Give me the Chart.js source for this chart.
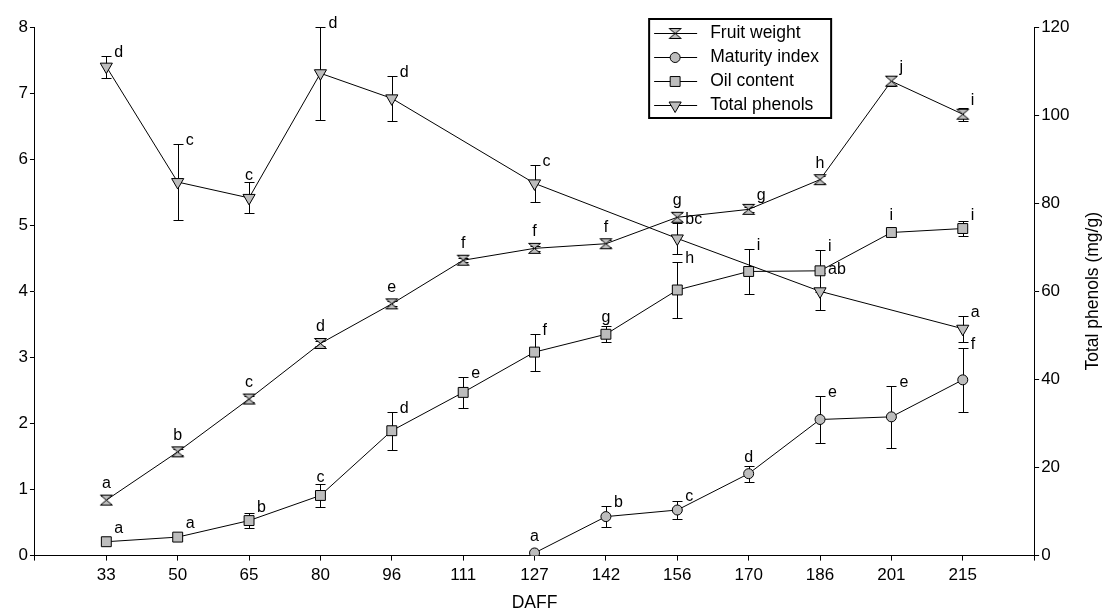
<!DOCTYPE html>
<html>
<head>
<meta charset="utf-8">
<script src="https://cdn.jsdelivr.net/npm/chart.js@4/dist/chart.umd.min.js"></script>
<style>
  html, body { margin: 0; padding: 0; background: #fff; }
  canvas { display: block; }
</style>
</head>
<body>
<canvas id="grafico" width="1105" height="614"></canvas>
<script>
// ===== Datos =====
const days = [33, 50, 65, 80, 96, 111, 127, 142, 156, 170, 186, 201, 215];
const leftTicks = [0, 1, 2, 3, 4, 5, 6, 7, 8];
const rightTicks = [0, 20, 40, 60, 80, 100, 120];

const fruitWeight = [0.84, 1.57, 2.37, 3.21, 3.81, 4.47, 4.65, 4.72, 5.12, 5.24, 5.69, 7.18, 6.68];
const fruitErr = [0.06, 0.05, 0.05, 0.04, 0.04, 0.03, 0.04, 0.05, 0.06, 0.04, 0.05, 0.08, 0.1];
const fruitLetters = ["a", "b", "c", "d", "e", "f", "f", "f", "g", "g", "h", "j", "i"];

const maturity = [null, null, null, null, null, null, 0.04, 0.59, 0.69, 1.24, 2.06, 2.10, 2.66];
const maturityErr = [null, null, null, null, null, null, 0, 0.16, 0.14, 0.12, 0.35, 0.47, 0.48];
const maturityLetters = [null, null, null, null, null, null, "a", "b", "c", "d", "e", "e", "f"];

const oil = [0.21, 0.28, 0.53, 0.91, 1.89, 2.47, 3.08, 3.35, 4.02, 4.30, 4.31, 4.89, 4.95];
const oilErr = [0, 0, 0.11, 0.17, 0.29, 0.23, 0.28, 0.12, 0.43, 0.34, 0.32, 0.03, 0.11];
const oilLetters = ["a", "a", "b", "c", "d", "e", "f", "g", "h", "i", "i", "i", "i"];

const phenols = [111.0, 84.8, 81.2, 109.5, 103.8, null, 84.5, null, 72.0, null, 60.0, null, 51.5];
const phenolsErr = [2.5, 8.6, 3.5, 10.5, 5.1, null, 4.2, null, 3.5, null, 4.2, null, 2.9];
const phenolsLetters = ["d", "c", "c", "d", "d", null, "c", null, "bc", null, "ab", null, "a"];

// donde va cada letra: a = encima, r = a la derecha
const fruitSide = "aaaaaaaaararr";
const maturitySide = "------arrarrr";
const oilSide = "rrrarrrarrrar";
const phenolsSide = "rrarr-r-r-r-r";

const FONT = 'Arial, "Liberation Sans", sans-serif';
const GRIS = "#bdbdbd";

// marcador tipo reloj de arena
function hourglass() {
  const c = document.createElement("canvas");
  c.width = 15;
  c.height = 13;
  const g = c.getContext("2d");
  g.fillStyle = GRIS;
  g.strokeStyle = "#000";
  g.lineWidth = 1;
  g.beginPath();
  g.moveTo(1.5, 1.5); g.lineTo(13.5, 1.5); g.lineTo(7.5, 6.5); g.closePath();
  g.moveTo(1.5, 11.5); g.lineTo(13.5, 11.5); g.lineTo(7.5, 6.5); g.closePath();
  g.fill();
  g.stroke();
  return c;
}

function puntos(values) {
  return values.map((v, i) => ({ x: i + 1, y: v }));
}

function serie(label, values, errs, letters, side, style, axis) {
  return Object.assign({
    label: label,
    data: puntos(values),
    errors: errs,
    letters: letters,
    side: side,
    yAxisID: axis,
    borderColor: "#000",
    borderWidth: 1,
    backgroundColor: GRIS,
    pointBackgroundColor: GRIS,
    pointBorderColor: "#000",
    pointBorderWidth: 1,
    spanGaps: true,
    tension: 0,
    fill: false
  }, style);
}

// ===== Plugins =====
const errorBars = {
  id: "errorBars",
  beforeDatasetsDraw(chart) {
    const ctx = chart.ctx;
    ctx.save();
    ctx.strokeStyle = "#000";
    ctx.lineWidth = 1;
    chart.data.datasets.forEach((ds, di) => {
      const meta = chart.getDatasetMeta(di);
      const yScale = chart.scales[ds.yAxisID];
      ds.errors.forEach((e, i) => {
        const v = ds.data[i].y;
        if (v == null || !e) return;
        const x = Math.round(meta.data[i].x) + 0.5;
        const y1 = Math.round(yScale.getPixelForValue(v + e)) + 0.5;
        const y2 = Math.round(yScale.getPixelForValue(v - e)) + 0.5;
        ctx.beginPath();
        ctx.moveTo(x, y1); ctx.lineTo(x, y2);
        ctx.moveTo(x - 5, y1); ctx.lineTo(x + 5, y1);
        ctx.moveTo(x - 5, y2); ctx.lineTo(x + 5, y2);
        ctx.stroke();
      });
    });
    ctx.restore();
  },
  afterDatasetsDraw(chart) {
    const ctx = chart.ctx;
    ctx.save();
    ctx.fillStyle = "#000";
    ctx.font = "16px " + FONT;
    ctx.textBaseline = "alphabetic";
    chart.data.datasets.forEach((ds, di) => {
      const meta = chart.getDatasetMeta(di);
      const yScale = chart.scales[ds.yAxisID];
      ds.letters.forEach((txt, i) => {
        if (!txt) return;
        const pt = meta.data[i];
        const v = ds.data[i].y;
        const e = ds.errors[i] || 0;
        const top = Math.min(yScale.getPixelForValue(v + e), pt.y - 10);
        if (ds.side[i] === "a") {
          ctx.textAlign = "center";
          ctx.fillText(txt, pt.x, top - 2);
        } else {
          ctx.textAlign = "left";
          ctx.fillText(txt, pt.x + 8, top + 1);
        }
      });
    });
    ctx.restore();
  }
};

const leyenda = {
  id: "leyenda",
  afterDraw(chart) {
    const ctx = chart.ctx;
    const a = chart.chartArea;
    const x0 = a.right - 385, y0 = a.top - 8, w = 182, h = 99;
    ctx.save();
    ctx.strokeStyle = "#000";
    ctx.lineWidth = 2;
    ctx.fillStyle = "#fff";
    ctx.fillRect(x0, y0, w, h);
    ctx.strokeRect(x0, y0, w, h);
    chart.data.datasets.forEach((ds, i) => {
      const y = Math.round(y0 + 14 + i * 24) + 0.5;
      ctx.lineWidth = 1;
      ctx.strokeStyle = "#000";
      ctx.beginPath();
      ctx.moveTo(x0 + 5, y);
      ctx.lineTo(x0 + 48, y);
      ctx.stroke();
      ctx.fillStyle = GRIS;
      Chart.helpers.drawPoint(ctx, {
        pointStyle: ds.pointStyle,
        rotation: ds.pointRotation || 0,
        radius: ds.pointRadius,
        borderWidth: 1
      }, x0 + 26, y);
      ctx.fillStyle = "#000";
      ctx.font = "17.5px " + FONT;
      ctx.textAlign = "left";
      ctx.textBaseline = "middle";
      ctx.fillText(ds.label, x0 + 61, y);
    });
    ctx.restore();
  }
};

const tituloDerecho = {
  id: "tituloDerecho",
  afterDraw(chart) {
    const ctx = chart.ctx;
    const a = chart.chartArea;
    ctx.save();
    ctx.translate(1093, (a.top + a.bottom) / 2);
    ctx.rotate(-Math.PI / 2);
    ctx.fillStyle = "#000";
    ctx.font = "17.5px " + FONT;
    ctx.textAlign = "center";
    ctx.textBaseline = "middle";
    ctx.fillText("Total phenols (mg/g)", 0, 0);
    ctx.restore();
  }
};

// ===== Gráfico =====
const ejeGrid = {
  drawOnChartArea: false,
  drawTicks: true,
  tickLength: 5,
  color: "#000",
  lineWidth: 1
};

new Chart(document.getElementById("grafico"), {
  type: "line",
  data: {
    datasets: [
      serie("Fruit weight", fruitWeight, fruitErr, fruitLetters, fruitSide,
        { pointStyle: hourglass(), pointRadius: 6 }, "y"),
      serie("Maturity index", maturity, maturityErr, maturityLetters, maturitySide,
        { pointStyle: "circle", pointRadius: 5 }, "y"),
      serie("Oil content", oil, oilErr, oilLetters, oilSide,
        { pointStyle: "rect", pointRadius: 7 }, "y"),
      serie("Total phenols", phenols, phenolsErr, phenolsLetters, phenolsSide,
        { pointStyle: "triangle", pointRotation: 180, pointRadius: 7 }, "y2")
    ]
  },
  options: {
    responsive: false,
    animation: false,
    events: [],
    layout: { padding: { left: 16.5, right: 33.5, top: 27, bottom: 0 } },
    plugins: {
      legend: { display: false },
      tooltip: { enabled: false }
    },
    scales: {
      x: {
        type: "linear",
        min: 0,
        max: days.length + 1,
        grid: ejeGrid,
        border: { color: "#000", width: 1 },
        ticks: {
          stepSize: 1,
          padding: 5,
          color: "#000",
          font: { family: FONT, size: 17 },
          callback: (v) => days[v - 1] ?? ""
        },
        title: {
          display: true,
          text: "DAFF",
          color: "#000",
          font: { family: FONT, size: 17.5 },
          padding: { top: 2, bottom: 0 }
        }
      },
      y: {
        position: "left",
        min: leftTicks[0],
        max: leftTicks[leftTicks.length - 1],
        grid: ejeGrid,
        border: { color: "#000", width: 1 },
        ticks: {
          stepSize: leftTicks[1] - leftTicks[0],
          padding: 2,
          color: "#000",
          font: { family: FONT, size: 17 }
        }
      },
      y2: {
        position: "right",
        min: rightTicks[0],
        max: rightTicks[rightTicks.length - 1],
        grid: ejeGrid,
        border: { color: "#000", width: 1 },
        ticks: {
          stepSize: rightTicks[1] - rightTicks[0],
          padding: 2,
          color: "#000",
          font: { family: FONT, size: 17 }
        }
      }
    }
  },
  plugins: [errorBars, leyenda, tituloDerecho]
});
</script>
</body>
</html>
